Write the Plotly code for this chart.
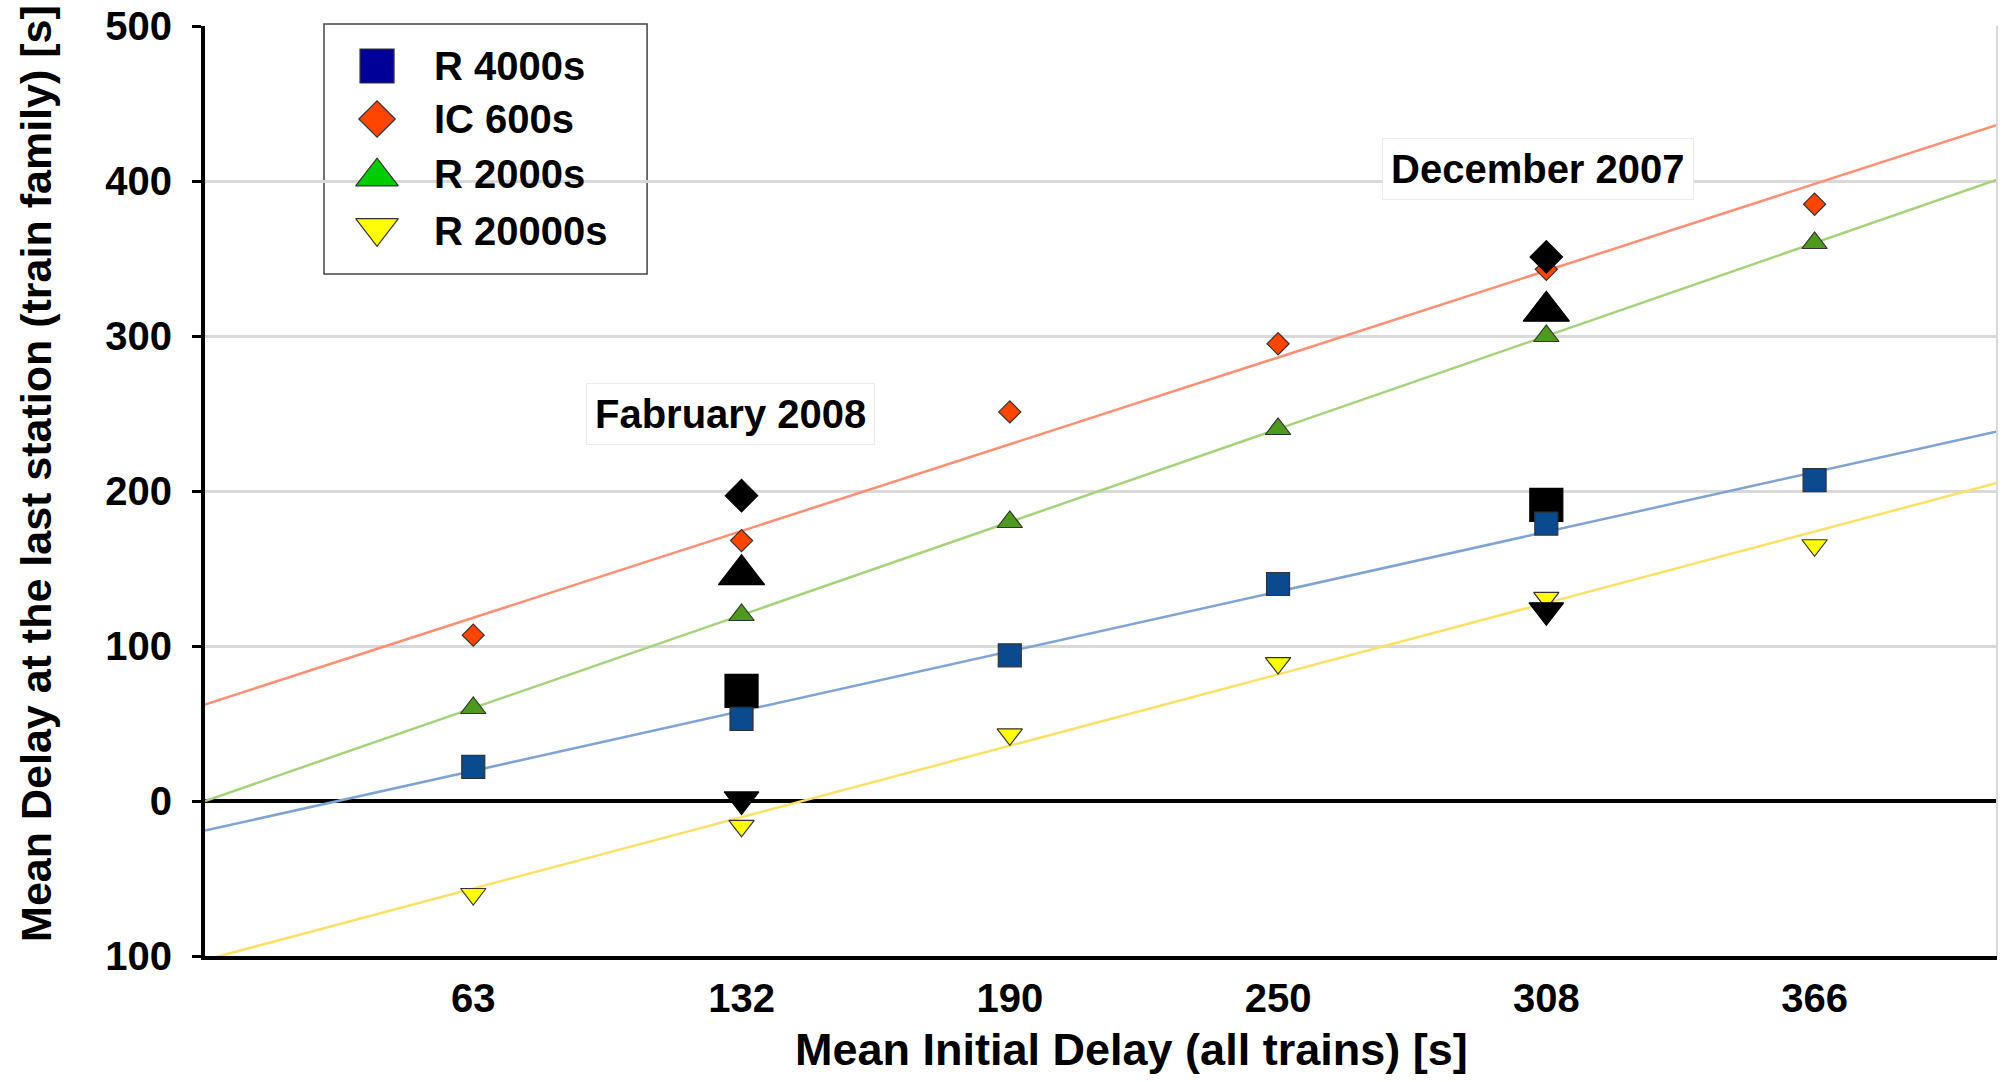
import numpy as np
import plotly.graph_objects as go

# ---------------- data ----------------
categories = ["63", "132", "190", "250", "308", "366"]          # mean initial delay (all trains) [s]
positions = [1, 2, 3, 4, 5, 6]                                    # evenly spaced category slots

series_names = ["R 4000s", "IC 600s", "R 2000s", "R 20000s"]
r4000 = [22, 53, 94, 140, 179, 207]
ic600 = [107, 168, 251, 295, 343, 385]
r2000 = [60, 120, 180, 240, 300, 360]
r20000 = [-60, -16, 43, 89, 131, 165]

# highlighted months (black markers): Fabruary 2008 at 132, December 2007 at 308
highlight_positions = [2, 5]
hl_r4000 = [71, 191]
hl_ic600 = [197, 351]
hl_r2000 = [146, 316]
hl_r20000 = [1, 123]

y_tickvals = [-100, 0, 100, 200, 300, 400, 500]
y_ticktext = ["100", "0", "100", "200", "300", "400", "500"]

x_title = "Mean Initial Delay (all trains) [s]"
y_title = "Mean Delay at the last station (train family) [s]"

annotation_texts = ["Fabruary 2008", "December 2007"]
annotation_pos = [(1.96, 250), (4.97, 408)]

# ---------------- styles ----------------
FONT = "Liberation Sans, Arial, sans-serif"
marker_colors = ["#0B4A8F", "#FF4500", "#4E9A1E", "#FFFF00"]
legend_colors = ["#000099", "#FF4500", "#00CC00", "#FFFF00"]
line_colors = ["#7FA3D3", "#FF8F73", "#A6D27A", "#FFE066"]
symbols = ["square", "diamond", "triangle-up", "triangle-down"]
sizes = [23, 17, 22, 22]
hl_sizes = [33, 25, 40, 30]
legend_sizes = [34, 28, 37, 37]

XMAX = 6.68
fig = go.Figure()

values = [r4000, ic600, r2000, r20000]

# trend lines (least squares fit of each family)
xs_line = np.array([0.0, XMAX])
for vals, col in zip(values, line_colors):
    k, b = np.polyfit(positions, vals, 1)
    fig.add_trace(go.Scatter(x=xs_line, y=k * xs_line + b, mode="lines",
                             line=dict(color=col, width=2.5), showlegend=False,
                             hoverinfo="skip"))

def add_points(x, y, sym, size, color, lc):
    fig.add_trace(go.Scatter(x=x, y=y, mode="markers", showlegend=False,
                             marker=dict(symbol=sym, size=size, color=color,
                                         line=dict(color=lc, width=1.2))))

# drawing order
add_points(highlight_positions, hl_r2000, symbols[2], hl_sizes[2], "black", "black")
add_points(highlight_positions, hl_r4000, symbols[0], hl_sizes[0], "black", "black")
for i in range(4):
    add_points(positions, values[i], symbols[i], sizes[i], marker_colors[i], "#333333")
add_points(highlight_positions, hl_ic600, symbols[1], hl_sizes[1], "black", "black")
add_points(highlight_positions, hl_r20000, symbols[3], hl_sizes[3], "black", "black")

# ---------------- legend (drawn box) ----------------
leg_x0, leg_x1, leg_y0, leg_y1 = 0.0664, 0.2467, 0.7333, 1.0022
leg_marker_x = 0.096
leg_text_x = 0.1267
leg_rows_y = [0.957, 0.900, 0.841, 0.780]
leg_marker_y = [0.957, 0.900, 0.838, 0.783]
fig.add_shape(type="rect", xref="paper", yref="paper", x0=leg_x0, x1=leg_x1,
              y0=leg_y0, y1=leg_y1, line=dict(color="#444444", width=1.5),
              fillcolor="white", layer="between")
for i in range(4):
    fig.add_trace(go.Scatter(x=[leg_marker_x], y=[leg_marker_y[i]], xaxis="x2", yaxis="y2",
                             mode="markers", showlegend=False, hoverinfo="skip",
                             marker=dict(symbol=symbols[i], size=legend_sizes[i],
                                         color=legend_colors[i],
                                         line=dict(color="#333333", width=1.2))))
    fig.add_annotation(x=leg_text_x, y=leg_rows_y[i], xref="paper", yref="paper",
                       text="<b>" + series_names[i] + "</b>", showarrow=False,
                       xanchor="left", yanchor="middle",
                       font=dict(family=FONT, size=40, color="black"))

# month annotations
for txt, (ax, ay) in zip(annotation_texts, annotation_pos):
    fig.add_annotation(x=ax, y=ay, text="<b>" + txt + "</b>", showarrow=False,
                       font=dict(family=FONT, size=40, color="black"),
                       bgcolor="white", bordercolor="#EBEBEB", borderwidth=1,
                       borderpad=8)

# axis titles
fig.add_annotation(x=0.517, y=-0.101, xref="paper", yref="paper",
                   text="<b>" + x_title + "</b>", showarrow=False,
                   xanchor="center", yanchor="middle",
                   font=dict(family=FONT, size=45, color="black"))
fig.add_annotation(x=-0.094, y=0.519, xref="paper", yref="paper",
                   text="<b>" + y_title + "</b>", showarrow=False, textangle=-90,
                   xanchor="center", yanchor="middle",
                   font=dict(family=FONT, size=43, color="black"))

# right border
fig.add_shape(type="line", xref="paper", yref="paper", x0=1, x1=1, y0=0, y1=1,
              line=dict(color="#D9D9D9", width=2))

fig.update_layout(
    width=2010, height=1082,
    margin=dict(l=205, r=13, t=26, b=126, autoexpand=False),
    paper_bgcolor="white", plot_bgcolor="white",
    font=dict(family=FONT, color="black"),
    showlegend=False,
    xaxis=dict(range=[0, XMAX], tickvals=positions, ticktext=categories,
               showgrid=False, zeroline=False, showline=True, linecolor="black",
               linewidth=4, ticks="", ticklabelstandoff=4, automargin=False,
               tickfont=dict(family=FONT, size=40, color="black", weight="bold")),
    yaxis=dict(range=[-100, 500], tickvals=y_tickvals, ticktext=y_ticktext,
               showgrid=True, gridcolor="#D9D9D9", gridwidth=3,
               zeroline=True, zerolinecolor="black", zerolinewidth=3.5,
               showline=True, linecolor="black", linewidth=4,
               ticks="outside", ticklen=9, tickwidth=3, tickcolor="black",
               ticklabelstandoff=12, automargin=False,
               tickfont=dict(family=FONT, size=40, color="black", weight="bold")),
    xaxis2=dict(range=[0, 1], overlaying="x", visible=False, fixedrange=True),
    yaxis2=dict(range=[0, 1], overlaying="y", visible=False, fixedrange=True),
)

fig.write_html("out.html")
